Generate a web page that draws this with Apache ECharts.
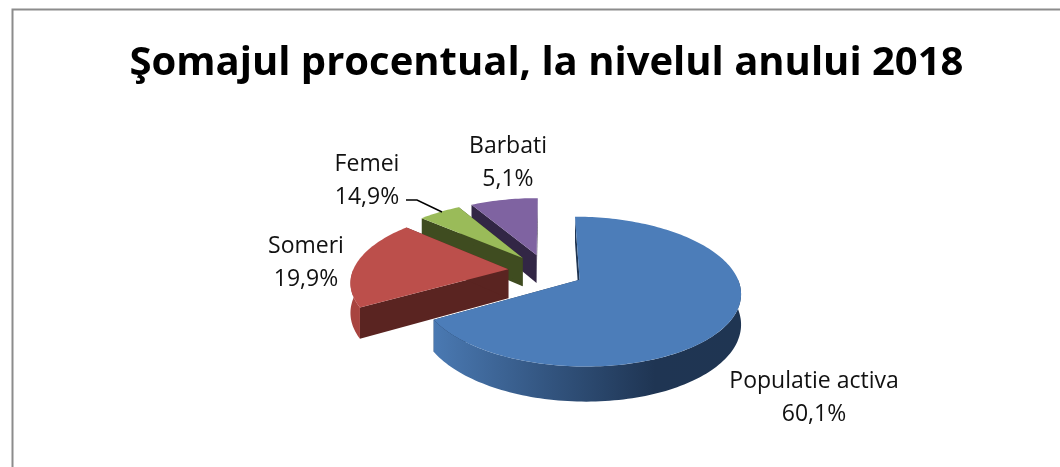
<!DOCTYPE html>
<html><head><meta charset="utf-8">
<style>html,body{margin:0;padding:0;background:#fff}#c{width:1060px;height:467px}</style>
<script src="https://cdn.jsdelivr.net/npm/echarts@6/dist/echarts.min.js"></script>
</head><body><div id="c"></div>
<script>
const titleText = 'Şomajul procentual, la nivelul anului 2018';
const categories = ['Populatie activa', 'Someri', 'Femei', 'Barbati'];
// Percentages printed on the reference's labels.
const labelPercents = ['60,1%', '19,9%', '14,9%', '5,1%'];
// Slice shares as drawn in the reference: its wedges do not follow the printed
// percentages, so these are estimated from the wedge geometry in the picture.
const sliceShares = [66.6, 19.9, 5.2, 8.3];

const topColors = ['#4C7DB9', '#BC4F4B', '#9ABB59', '#7F63A1'];
const cutColors = ['#1F3552', '#5A2421', '#3F4C20', '#322645'];
const wallColors = ['#1F3552', '#A8443F', '#5f7530', '#4c3b63'];
const labelAnchors = [[814, 398], [306, 262.5], [367, 181], [508, 163]];

const G = {cx: 546, cy: 271, R: 155.5, k: 0.452, p: 0.001, e: 38, d: 29};
const total = sliceShares.reduce((a, b) => a + b, 0);

function project(X, Y, z) {
  const s = 1 / (1 - G.p * Y);
  return [G.cx + X * s, G.cy + G.k * Y * s + z * s];
}
function sliceGeometry(i) {
  let before = 0;
  for (let j = 0; j < i; j++) before += sliceShares[j];
  const a0 = before / total * Math.PI * 2;
  const a1 = (before + sliceShares[i]) / total * Math.PI * 2;
  const mid = (a0 + a1) / 2;
  return {a0, a1, ox: G.e * Math.sin(mid), oy: -G.e * Math.cos(mid)};
}
function arcPoints(g, from, to, z) {
  const n = Math.max(4, Math.ceil(Math.abs(to - from) * 40));
  const pts = [];
  for (let t = 0; t <= n; t++) {
    const a = from + (to - from) * t / n;
    pts.push(project(g.ox + G.R * Math.sin(a), g.oy - G.R * Math.cos(a), z));
  }
  return pts;
}
function renderSlice(params, api) {
  const i = api.value(0);
  const g = sliceGeometry(i);
  const apexTop = project(g.ox, g.oy, 0), apexBot = project(g.ox, g.oy, G.d);
  const topArc = arcPoints(g, g.a0, g.a1, 0);
  const z2 = 10 * (categories.length - i);
  const kids = [];
  const face = (points, fill, z) => kids.push({type: 'polygon', shape: {points}, style: {fill}, z2: z2 + z, silent: true});
  face([apexTop, topArc[0], project(g.ox + G.R * Math.sin(g.a0), g.oy - G.R * Math.cos(g.a0), G.d), apexBot], cutColors[i], 0);
  face([apexTop, topArc[topArc.length - 1], project(g.ox + G.R * Math.sin(g.a1), g.oy - G.R * Math.cos(g.a1), G.d), apexBot], cutColors[i], 0);
  const w0 = Math.max(g.a0, Math.PI / 2), w1 = Math.min(g.a1, Math.PI * 1.5);
  if (w1 > w0) {
    const up = arcPoints(g, w0, w1, 0), down = arcPoints(g, w0, w1, G.d).reverse();
    const fill = i === 0
      ? new echarts.graphic.LinearGradient(0, 0, 1, 0, [
          {offset: 0, color: '#4A79B2'}, {offset: 0.4, color: '#31527C'}, {offset: 0.72, color: '#1F3553'}, {offset: 1, color: '#1F3552'}])
      : wallColors[i];
    face(up.concat(down), fill, 1);
  }
  face([apexTop].concat(topArc), topColors[i], 2);
  kids.push({type: 'text', x: labelAnchors[i][0], y: labelAnchors[i][1], z2: 100, silent: true,
    style: {text: categories[i] + '\n' + labelPercents[i], fill: '#111', font: '23px "Open Sans"',
      align: 'center', verticalAlign: 'middle', lineHeight: 33}});
  return {type: 'group', children: kids};
}
const chart = echarts.init(document.getElementById('c'), null, {renderer: 'canvas'});
chart.setOption({
  animation: false,
  backgroundColor: '#fff',
  title: {text: titleText, left: 541.5, top: 38.5, textAlign: 'center',
    textStyle: {fontFamily: 'Open Sans', fontWeight: 'bold', fontSize: 40, color: '#000'}},
  xAxis: {show: false}, yAxis: {show: false},
  grid: {left: 0, right: 0, top: 0, bottom: 0},
  series: [{type: 'custom', coordinateSystem: 'none', data: categories.map((c, i) => [i, sliceShares[i]]),
    encode: {}, renderItem: renderSlice, silent: true}],
  graphic: [
    {type: 'polyline', shape: {points: [[12.5, 467], [12.5, 9.5], [1060, 9.5]]}, style: {stroke: '#8c8c8c', lineWidth: 2, fill: null}},
    {type: 'polyline', shape: {points: [[406, 200], [417, 200], [442, 212]]}, style: {stroke: '#000', lineWidth: 1.5, fill: null}, z: 10}
  ]
});
</script></body></html>
